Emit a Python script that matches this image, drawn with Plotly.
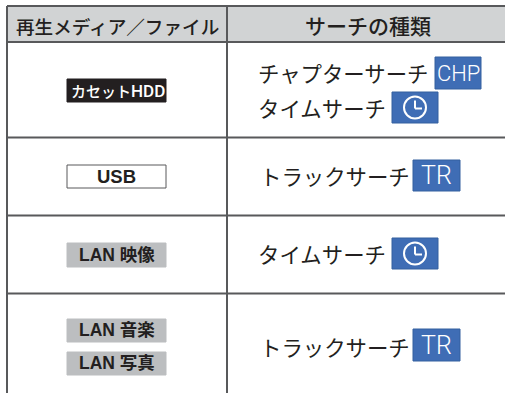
import plotly.graph_objects as go

FONT = "Noto Sans CJK JP"
INK = "#231f20"
LINE = "#58595b"
BLUE = "#3f6db5"

headers = ["再生メディア／ファイル", "サーチの種類"]
media_labels = ["カセット", "USB", "LAN 映像", "LAN 音楽", "LAN 写真"]
media_suffix = ["HDD", "", "", "", ""]
search_labels = ["チャプターサーチ", "タイムサーチ", "トラックサーチ", "タイムサーチ", "トラックサーチ"]
icon_labels = ["CHP", "", "TR", "", "TR"]

# layout only
media_boxes = [(67, 79, 166, 102), (67, 165, 166, 188), (67, 243, 166, 267), (67, 319, 166, 342), (67, 352, 166, 375)]
media_styles = [("#231f20", "#231f20", "white"), ("white", "#58595b", INK), ("#bcbec0", "#bcbec0", INK),
                ("#bcbec0", "#bcbec0", INK), ("#bcbec0", "#bcbec0", INK)]
search_pos = [(258, 72), (258, 107), (260, 175), (258, 253), (260, 346)]
icon_boxes = [(435, 57, 481, 89), (392, 92, 438, 123), (413, 160, 460, 191), (392, 238, 438, 269), (413, 329, 460, 361)]
icon_sizes = {"CHP": 22, "TR": 25}

fig = go.Figure()
shapes, ann = [], []


def rect(x0, y0, x1, y1, fill, line=None, w=1):
    shapes.append(dict(type="rect", xref="x", yref="y", x0=x0, y0=y0, x1=x1, y1=y1, fillcolor=fill,
                       line=dict(color=line or fill, width=w), layer="below"))


def seg(x0, y0, x1, y1, color=LINE, w=2):
    shapes.append(dict(type="line", xref="x", yref="y", x0=x0, y0=y0, x1=x1, y1=y1,
                       line=dict(color=color, width=w)))


def text(x, y, s, size, color=INK, anchor="center", family=FONT, weight=400):
    ann.append(dict(xref="x", yref="y", x=x, y=y, text=s, showarrow=False, xanchor=anchor, yanchor="middle",
                    font=dict(family=family, size=size, color=color, weight=weight), borderpad=0, borderwidth=0))


rect(7, 6, 505, 42, "#d1d3d4", "#d1d3d4", 0)
for y in (6, 42, 137.5, 215.5, 293.5):
    seg(7, y, 505, y)
seg(7, 6, 7, 393)
seg(227, 6, 227, 393)

text(117, 25, headers[0], 18.6, weight=500)
text(368, 25, headers[1], 21, weight=500)

MIXED = "Liberation Sans, " + FONT
for box, style, label, suffix in zip(media_boxes, media_styles, media_labels, media_suffix):
    rect(*box, style[0], style[1], 1)
    cx, cy = (box[0] + box[2]) / 2, (box[1] + box[3]) / 2
    if suffix:
        s = label + f'<span style="font-family:Roboto;font-size:17px">{suffix}</span>'
        text(cx + 1, cy, s, 15, style[2], weight=500)
    elif label == "USB":
        text(cx, cy - 0.5, label, 18.5, style[2], family=MIXED, weight=700)
    else:
        text(cx, cy - 0.5, label, 17.5, style[2], family=MIXED, weight=700)

for pos, label in zip(search_pos, search_labels):
    text(pos[0], pos[1], label, 21.4, anchor="left")

for box, label in zip(icon_boxes, icon_labels):
    rect(*box, BLUE, "#35609f", 1)
    cx, cy = (box[0] + box[2]) / 2, (box[1] + box[3]) / 2
    if label:
        text(cx, cy, label, icon_sizes[label], "white", family="Roboto", weight=300)
    else:
        shapes.append(dict(type="circle", xref="x", yref="y", x0=cx - 11, y0=cy - 11, x1=cx + 11, y1=cy + 11,
                           line=dict(color="white", width=2), fillcolor="rgba(0,0,0,0)"))
        seg(cx, cy - 7, cx, cy + 1, "white", 2)
        seg(cx, cy + 1, cx + 7, cy + 1, "white", 2)

fig.update_layout(
    width=505, height=393, margin=dict(l=0, r=0, t=0, b=0), autosize=False,
    paper_bgcolor="white", plot_bgcolor="white", showlegend=False,
    xaxis=dict(range=[0, 505], visible=False, fixedrange=True),
    yaxis=dict(range=[393, 0], visible=False, fixedrange=True),
    shapes=shapes, annotations=ann,
)
fig.write_html("out.html", config={"displayModeBar": False},
               post_script="document.body.style.margin='0';document.documentElement.style.overflow='hidden';")
